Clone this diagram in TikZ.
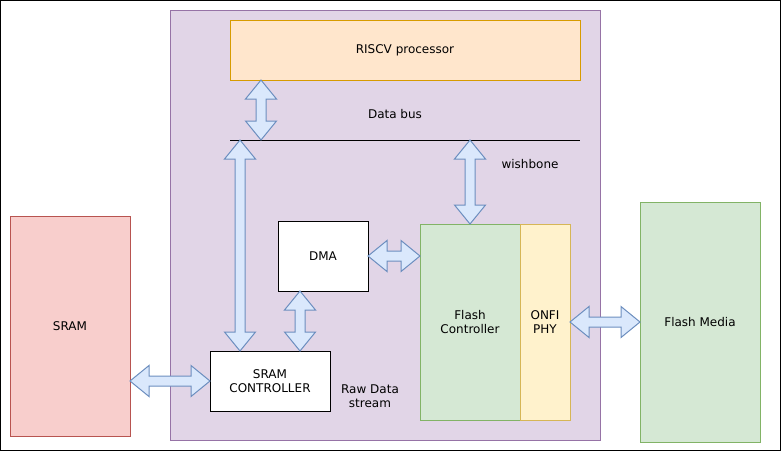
\documentclass[tikz,border=0pt]{standalone}
\usepackage{fontspec}
\setmainfont{DejaVu Sans}
\usetikzlibrary{calc}
\definecolor{purpF}{HTML}{E1D5E7}
\definecolor{purpS}{HTML}{9673A6}
\definecolor{orF}{HTML}{FFE6CC}
\definecolor{orS}{HTML}{D79B00}
\definecolor{grF}{HTML}{D5E8D4}
\definecolor{grS}{HTML}{82B366}
\definecolor{yeF}{HTML}{FFF2CC}
\definecolor{yeS}{HTML}{D6B656}
\definecolor{reF}{HTML}{F8CECC}
\definecolor{reS}{HTML}{B85450}
\definecolor{arF}{HTML}{DAE8FC}
\definecolor{arS}{HTML}{6C8EBF}
\newcommand\dbarrow[2]{%
  \path (#1) coordinate (da) (#2) coordinate (db);
  \path ($(da)!19pt!(db)$) coordinate (ha) ($(db)!19pt!(da)$) coordinate (hb);
  \draw[arr] (da) -- ($(ha)!15.5pt!90:(db)$) -- ($(ha)!5pt!90:(db)$)
    -- ($(hb)!5pt!-90:(da)$) -- ($(hb)!15.5pt!-90:(da)$) -- (db)
    -- ($(hb)!15.5pt!90:(da)$) -- ($(hb)!5pt!90:(da)$)
    -- ($(ha)!5pt!-90:(db)$) -- ($(ha)!15.5pt!-90:(db)$) -- cycle;}
\begin{document}
\begin{tikzpicture}[x=1pt,y=-1pt,
  font=\fontsize{12}{14}\selectfont,
  box/.style={draw, line width=1pt, inner sep=0pt, outer sep=0pt, align=center, anchor=north west},
  lbl/.style={inner sep=0pt, align=center},
  arr/.style={draw=arS, fill=arF, line width=1pt, line join=miter}]
\useasboundingbox (0,0) rectangle (781,451);
\draw[line width=1pt] (0.5,0.5) rectangle (780.5,450.5);
% container
\node[box, draw=purpS, fill=purpF, minimum width=430, minimum height=430] (soc) at (170,10) {};
\node[box, draw=orS, fill=orF, minimum width=350, minimum height=60] (riscv) at (230,20) {RISCV processor};
\node[lbl] (dbus) at (395,114) {Data bus};
\coordinate (busL) at (230,140);
\coordinate (busR) at (580,140);
\draw[line width=1pt] (busL) -- (busR);
\node[lbl] (wb) at (530,164) {wishbone};
\node[box, fill=white, minimum width=90, minimum height=70] (dma) at (278,221) {DMA};
\node[box, fill=white, minimum width=120, minimum height=60] (sramc) at (210,351) {SRAM\\CONTROLLER};
\node[lbl] (raw) at (370,396) {Raw Data\\stream};
\node[box, draw=grS, fill=grF, minimum width=100, minimum height=196] (flash) at (420,224) {Flash\\Controller};
\node[box, draw=yeS, fill=yeF, minimum width=50, minimum height=196] (onfi) at (520,224) {ONFI\\PHY};
\node[box, draw=reS, fill=reF, minimum width=120, minimum height=220] (sram) at (10,216) {SRAM};
\node[box, draw=grS, fill=grF, minimum width=120, minimum height=240] (media) at (640,202) {Flash Media};
% arrows
\dbarrow{[xshift=31pt]riscv.south west}{[xshift=31pt]busL}
\dbarrow{[xshift=10pt]busL}{[xshift=30pt]sramc.north west}
\dbarrow{flash.north |- busL}{flash.north}
\dbarrow{dma.east}{flash.west |- dma.east}
\dbarrow{[xshift=22pt]dma.south west}{[xshift=90pt]sramc.north west}
\dbarrow{sram.east |- sramc.west}{sramc.west}
\dbarrow{onfi.east}{media.west |- onfi.east}
\end{tikzpicture}
\end{document}
